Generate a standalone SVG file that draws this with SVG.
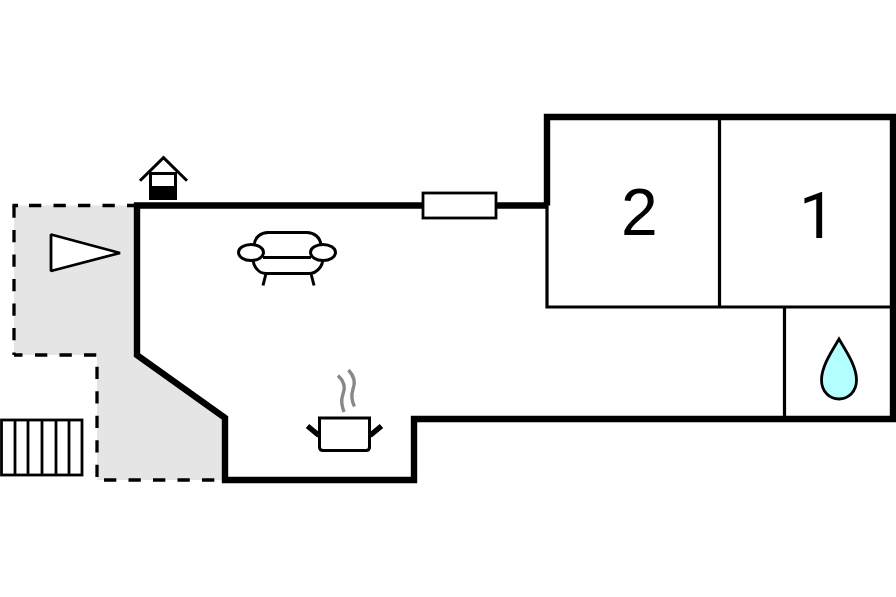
<svg xmlns="http://www.w3.org/2000/svg" width="896" height="597" viewBox="0 0 896 597">
<style>
.wall{fill:none;stroke:#000;stroke-width:6.400;stroke-linejoin:miter}
.thin{fill:none;stroke:#000;stroke-width:3.200}
.icon{fill:#fff;stroke:#000;stroke-width:3}
.open{fill:none;stroke:#000;stroke-width:3}
.dash{fill:none;stroke:#000;stroke-width:3.300;stroke-dasharray:12.300 12.200}
.label{font-family:"Liberation Sans",Arial,sans-serif;font-size:66px;fill:#000}
</style>
<rect width="896" height="597" fill="#fff"/>
<g id="terrace">
<path d="M14 205.500H137V355L225 418V480H97V355H14Z" fill="#e5e5e5"/>
<path class="dash" d="M29 205.500H137M14 205.500V355M35 355H97M97 366.700V480M104 480H222"/>
<path d="M12.500 205.500H18M14 355H22.500" fill="none" stroke="#000" stroke-width="3.300"/>
</g>
<g id="walls">
<path class="thin" d="M547 205V307H893M719.500 117V307M784.500 307V419"/>
<path class="wall" d="M547 205.500H137V355L225 418V480H414V419H893V117H547V205.500"/>
</g>
<g id="window"><rect x="423" y="193" width="73" height="25" fill="#fff" stroke="#000" stroke-width="2.800"/></g>
<g id="room-2"><text class="label" x="621" y="235">2</text></g>
<g id="room-1"><text class="label" x="799" y="238" style="font-family:Roboto,'Liberation Sans',sans-serif;font-size:65px">1</text></g>
<g id="bath"><path d="M839 339C832 351 821.500 366 821.500 380C821.500 392 830 399 839 399C848 399 856.500 392 856.500 380C856.500 366 846 351 839 339Z" fill="#b3ffff" stroke="#000" stroke-width="2.800"/></g>
<g id="entrance">
<path class="open" d="M140 180.700L163.500 157.700L187 180.700"/>
<rect x="150.500" y="173.500" width="25" height="25" fill="#fff" stroke="#000" stroke-width="3"/>
<rect x="149.500" y="186" width="27" height="13.500" fill="#000"/>
</g>
<g id="sofa">
<path class="open" d="M254 245C255 237 261 232.500 268 232.500H307C314 232.500 320 237 321 245M253 258C253 267 259 273.500 266 273.500H309C316 273.500 323 267 323 258M263 285.500L266 273.500M314 285.500L311 273.500M263 257.500H311"/>
<ellipse cx="251" cy="252.500" rx="12.500" ry="8" class="icon"/>
<ellipse cx="323" cy="252.500" rx="12.500" ry="8" class="icon"/>
</g>
<g id="kitchen">
<path d="M319.500 418H369.500V447C369.500 449.500 368 450.500 366 450.500H323C321 450.500 319.500 449.500 319.500 447Z" fill="#fff" stroke="#000" stroke-width="3"/>
<path d="M307.500 426L319 435.500M381.500 426L370 435.500" stroke="#000" stroke-width="5.500" fill="none"/>
<path d="M338 375.500C345 382 345.500 388 343 394C340.500 401 342 406 344 412M348.500 370C355 377 355.500 383 353 389C351 396 352 402 354.500 406.500" fill="none" stroke="#888" stroke-width="3.400"/>
</g>
<g id="entrance-arrow"><path d="M51 234.500L120 253L51 271Z" fill="#fff" stroke="#000" stroke-width="2.800" stroke-linejoin="bevel"/></g>
<g id="stairs">
<rect x="1.500" y="420" width="80.500" height="55" fill="#fff" stroke="#000" stroke-width="2.800"/>
<path d="M15 420V475M28 420V475M42 420V475M56 420V475M69 420V475" stroke="#000" stroke-width="2.800"/>
</g>
</svg>
